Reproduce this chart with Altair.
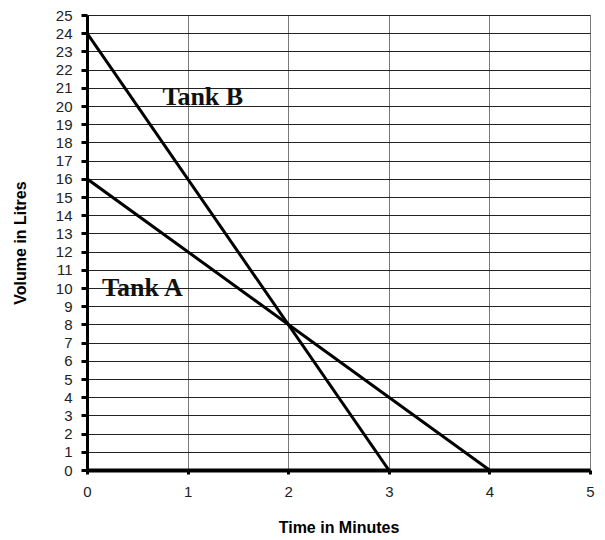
import altair as alt
import pandas as pd

tank_a_time = [0, 4]
tank_a_volume = [16, 0]
tank_b_time = [0, 3]
tank_b_volume = [24, 0]

label_text = ["Tank B", "Tank A"]
label_time = [0.75, 0.15]
label_volume = [20.5, 10.0]

x_ticks = [0, 1, 2, 3, 4, 5]
y_ticks = list(range(0, 26))

lines = pd.DataFrame({
    "time": tank_a_time + tank_b_time,
    "volume": tank_a_volume + tank_b_volume,
    "tank": ["A"] * len(tank_a_time) + ["B"] * len(tank_b_time),
})
labels = pd.DataFrame({"time": label_time, "volume": label_volume, "text": label_text})

x = alt.X("time:Q", scale=alt.Scale(domain=[0, 5], nice=False),
          axis=alt.Axis(title="Time in Minutes", values=x_ticks, format="d",
                        grid=True, gridColor="#7a7a7a", gridWidth=1,
                        domainColor="black", domainWidth=4,
                        tickColor="black", tickWidth=3, tickSize=4,
                        labelFont="Liberation Sans", labelFontSize=15, labelColor="#222",
                        labelPadding=10, labelOverlap=False, labelFlush=False,
                        titleFont="Liberation Sans", titleFontSize=16, titleFontWeight="bold",
                        titleColor="black", titlePadding=20))
y = alt.Y("volume:Q", scale=alt.Scale(domain=[0, 25], nice=False),
          axis=alt.Axis(title="Volume in Litres", values=y_ticks, format="d",
                        grid=True, gridColor="#222222", gridWidth=1,
                        domainColor="black", domainWidth=3,
                        tickColor="black", tickWidth=3, tickSize=6,
                        labelFont="Liberation Sans", labelFontSize=15, labelColor="#222",
                        labelPadding=9, labelOverlap=False, labelFlush=False,
                        titleFont="Liberation Sans", titleFontSize=16, titleFontWeight="bold",
                        titleColor="black", titleX=-59))

line_chart = alt.Chart(lines).mark_line(color="black", strokeWidth=3, clip=True).encode(
    x=x, y=y, detail="tank:N")

text_chart = alt.Chart(labels).mark_text(
    font="Liberation Serif", fontSize=26, fontWeight="bold", align="left",
    baseline="middle", color="#111").encode(
    x=x, y=y, text="text:N")

chart = (line_chart + text_chart).properties(
    width=503, height=455,
    autosize=alt.AutoSizeParams(type="none"),
    padding={"left": 79, "top": 7, "right": 7, "bottom": 68},
).configure_view(stroke=None).configure(background="white")

chart.save("out.html", embed_options={"renderer": "svg", "actions": False})
